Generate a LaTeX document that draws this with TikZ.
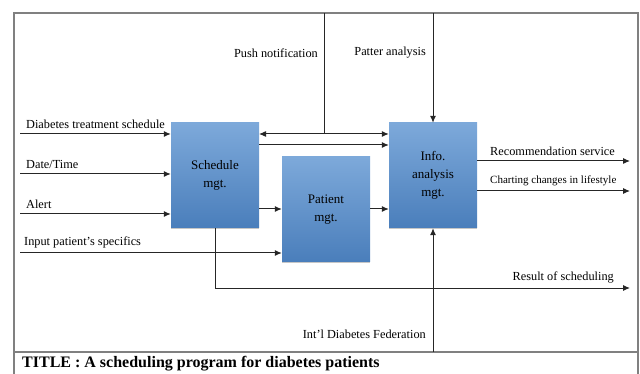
\documentclass[tikz,border=0pt]{standalone}
\usepackage{fontspec}
\setmainfont{Liberation Serif}
\usetikzlibrary{arrows.meta,shadows}
\definecolor{boxtop}{HTML}{7DA9DA}
\definecolor{boxbot}{HTML}{4A7EBB}
\definecolor{framegray}{HTML}{808080}
\definecolor{linegray}{HTML}{262626}
\tikzset{
  mgtbox/.style={rectangle, top color=boxtop, bottom color=boxbot,
    drop shadow={shadow xshift=0pt, shadow yshift=-1.5pt, opacity=0.45},
    minimum width=88pt, minimum height=105pt, inner sep=0pt, align=center,
    font=\fontsize{13}{18}\selectfont},
  flow/.style={draw=linegray, line width=1pt, -{Latex[length=7pt,width=6pt]}},
  plain/.style={draw=linegray, line width=1pt},
  lbl/.style={inner sep=0pt, font=\fontsize{12.3}{14}\selectfont}
}
\begin{document}
\begin{tikzpicture}[x=1pt,y=-1pt]
  \useasboundingbox (0,0) rectangle (640,374);
  % frame
  \draw[framegray, line width=1.6pt] (14,376) -- (14,13) -- (638,13) -- (638,376);
  \draw[framegray, line width=1.6pt] (14,352) -- (638,352);
  \node[anchor=west, inner sep=0pt, font=\fontsize{16}{18}\bfseries] (title) at (22,363.5) {TITLE : A scheduling program for diabetes patients};
  % boxes
  \node[mgtbox] (sched) at (215,175.5) {Schedule\\mgt.};
  \node[mgtbox] (patient) at (326,209.5) {Patient\\mgt.};
  \node[mgtbox] (info) at (433,175.5) {Info.\\analysis\\mgt.};
  % inputs
  \coordinate (in1) at (20,134);
  \coordinate (in2) at (20,174);
  \coordinate (in3) at (20,214);
  \coordinate (in4) at (20,253);
  \draw[flow] (in1) -- (in1 -| sched.west);
  \draw[flow] (in2) -- (in2 -| sched.west);
  \draw[flow] (in3) -- (in3 -| sched.west);
  \draw[flow] (in4) -- (in4 -| patient.west);
  \node[lbl, anchor=south west] at (26,129) {Diabetes treatment schedule};
  \node[lbl, anchor=south west] at (26,169) {Date/Time};
  \node[lbl, anchor=south west] at (26,209) {Alert};
  \node[lbl, anchor=south west] at (24,248) {Input patient’s specifics};
  % between boxes
  \coordinate (mid1) at (259,134);
  \coordinate (mid2) at (259,145);
  \coordinate (push) at (324,134);
  \draw[plain, {Latex[length=7pt,width=6pt]}-{Latex[length=7pt,width=6pt]}] (mid1) -- (mid1 -| info.west);
  \draw[flow] (mid2) -- (mid2 -| info.west);
  \draw[plain] (push) -- (324,13);
  \node[lbl, anchor=south east] at (318,58) {Push notification};
  \coordinate (sp) at (259,209);
  \coordinate (pi) at (370,209);
  \draw[flow] (sp) -- (sp -| patient.west);
  \draw[flow] (pi) -- (pi -| info.west);
  % controls
  \draw[flow] (info.north |- 0,13) -- (info.north);
  \node[lbl, anchor=south east] at (426,58) {Patter analysis};
  \draw[flow] (info.south |- 0,352) -- (info.south);
  \node[lbl, anchor=south east] at (426,339) {Int’l Diabetes Federation};
  % outputs
  \coordinate (out1) at (630,161);
  \coordinate (out2) at (630,191);
  \coordinate (res) at (215,288);
  \draw[flow] (out1 -| info.east) -- (out1);
  \draw[flow] (out2 -| info.east) -- (out2);
  \draw[flow] (sched.south) -- (res) -- (630,288);
  \node[lbl, anchor=south west] at (490,156) {Recommendation service};
  \node[lbl, anchor=south west, font=\fontsize{11}{12}\selectfont] at (490,186) {Charting changes in lifestyle};
  \node[lbl, anchor=south east] at (614,283) {Result of scheduling};
\end{tikzpicture}
\end{document}
